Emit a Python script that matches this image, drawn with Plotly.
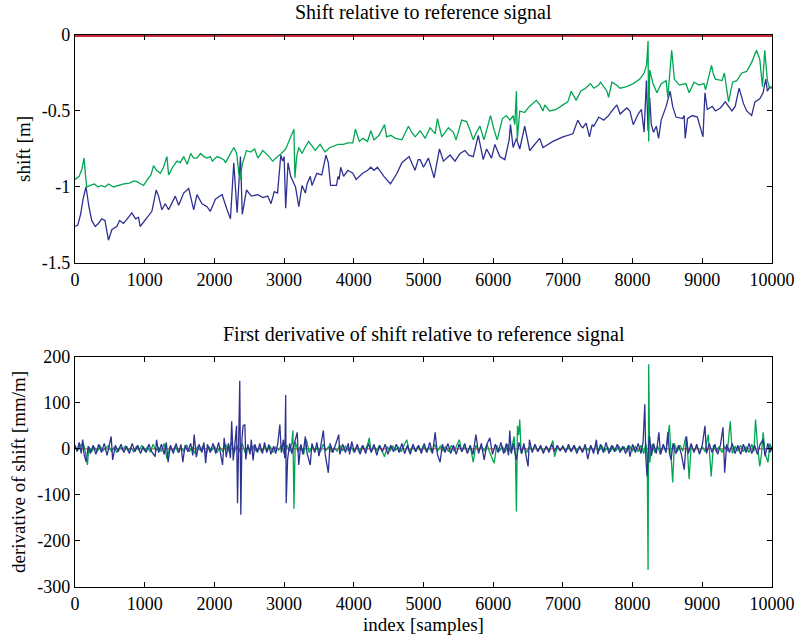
import plotly.graph_objects as go
from plotly.subplots import make_subplots

# ---- shift relative to reference signal [m] ----
green_x = [0, 60, 100, 130, 150, 168, 220, 280, 330, 380, 430, 480, 551, 620, 700, 780, 850, 887, 940, 983,
           1040, 1090, 1127, 1170, 1223, 1270, 1319, 1343, 1400, 1463, 1510, 1559, 1610, 1660, 1703, 1750, 1800,
           1850, 1900, 1942, 1970, 2038, 2090, 2134, 2160, 2220, 2278, 2320, 2350, 2370, 2400, 2440, 2460, 2520,
           2577, 2624, 2695, 2765, 2836, 2906, 2960, 3023, 3070, 3094, 3141, 3155, 3180, 3211, 3258, 3300, 3352,
           3400, 3446, 3516, 3587, 3657, 3720, 3775, 3850, 3915, 3986, 4023, 4080, 4130, 4197, 4244, 4290, 4362,
           4441, 4470, 4530, 4596, 4690, 4784, 4830, 4880, 4952, 5024, 5095, 5167, 5200, 5262, 5310, 5357, 5429,
           5467, 5548, 5619, 5670, 5714, 5760, 5810, 5867, 5920, 5962, 6010, 6057, 6133, 6190, 6240, 6286, 6310,
           6333, 6345, 6381, 6450, 6520, 6619, 6670, 6714, 6740, 6810, 6905, 7000, 7070, 7119, 7190, 7255, 7325,
           7396, 7443, 7514, 7540, 7632, 7656, 7703, 7774, 7821, 7915, 8009, 8104, 8165, 8200, 8222, 8231, 8245,
           8292, 8349, 8410, 8481, 8505, 8561, 8580, 8599, 8670, 8764, 8811, 8882, 8953, 9024, 9047, 9132, 9160,
           9189, 9283, 9316, 9377, 9434, 9495, 9566, 9637, 9708, 9778, 9825, 9863, 9896, 9934, 9967, 10000]
green_shift = [-0.95, -0.93, -0.88, -0.81, -0.92, -1.0, -0.99, -0.98, -1.0, -0.99, -1.0, -0.98, -1.0, -0.99,
               -0.98, -0.975, -0.96, -0.965, -0.98, -0.99, -0.95, -0.92, -0.86, -0.89, -0.91, -0.87, -0.80,
               -0.92, -0.87, -0.83, -0.84, -0.80, -0.85, -0.78, -0.81, -0.81, -0.78, -0.80, -0.81, -0.80, -0.83,
               -0.80, -0.81, -0.82, -0.84, -0.79, -0.74, -0.78, -0.91, -0.95, -0.85, -0.79, -0.76, -0.77, -0.75,
               -0.81, -0.76, -0.79, -0.83, -0.80, -0.78, -0.75, -0.70, -0.67, -0.62, -0.94, -0.80, -0.74, -0.78,
               -0.74, -0.70, -0.73, -0.76, -0.72, -0.77, -0.74, -0.73, -0.72, -0.72, -0.71, -0.71, -0.62, -0.70,
               -0.68, -0.70, -0.63, -0.69, -0.66, -0.59, -0.67, -0.66, -0.68, -0.69, -0.60, -0.64, -0.67, -0.63,
               -0.68, -0.61, -0.65, -0.55, -0.67, -0.64, -0.61, -0.64, -0.69, -0.56, -0.57, -0.63, -0.69, -0.64,
               -0.60, -0.69, -0.60, -0.53, -0.62, -0.69, -0.55, -0.53, -0.56, -0.53, -0.59, -0.37, -0.69, -0.50,
               -0.51, -0.47, -0.43, -0.46, -0.50, -0.46, -0.50, -0.49, -0.46, -0.44, -0.37, -0.43, -0.37, -0.35,
               -0.32, -0.35, -0.33, -0.31, -0.37, -0.41, -0.31, -0.33, -0.35, -0.34, -0.32, -0.29, -0.25, -0.20,
               -0.04, -0.70, -0.23, -0.32, -0.38, -0.32, -0.30, -0.41, -0.10, -0.22, -0.29, -0.33, -0.32, -0.38,
               -0.31, -0.33, -0.32, -0.36, -0.20, -0.26, -0.29, -0.30, -0.25, -0.44, -0.31, -0.30, -0.25, -0.24,
               -0.18, -0.10, -0.16, -0.34, -0.10, -0.30, -0.35, -0.34]

blue_x = [0, 40, 80, 120, 158, 200, 240, 290, 336, 384, 430, 480, 530, 600, 640, 695, 750, 815, 870, 911, 935,
          983, 1055, 1103, 1165, 1199, 1247, 1295, 1343, 1391, 1439, 1487, 1559, 1631, 1703, 1750, 1822, 1894,
          1942, 2014, 2110, 2182, 2230, 2278, 2326, 2374, 2400, 2460, 2530, 2624, 2695, 2765, 2812, 2859, 2906,
          2953, 2980, 3000, 3023, 3056, 3094, 3164, 3211, 3258, 3305, 3330, 3375, 3400, 3469, 3540, 3601, 3634,
          3667, 3751, 3775, 3790, 3812, 3854, 3915, 3986, 4033, 4127, 4200, 4244, 4290, 4338, 4432, 4526, 4620,
          4690, 4793, 4830, 4878, 4925, 4952, 5000, 5071, 5152, 5229, 5286, 5381, 5452, 5524, 5595, 5650, 5714,
          5786, 5857, 5905, 5976, 6024, 6095, 6167, 6229, 6248, 6286, 6333, 6381, 6452, 6524, 6595, 6667, 6714,
          6857, 7000, 7143, 7214, 7260, 7286, 7333, 7381, 7420, 7443, 7514, 7585, 7656, 7703, 7774, 7821, 7915,
          7962, 8009, 8080, 8127, 8165, 8198, 8222, 8245, 8269, 8300, 8340, 8373, 8410, 8481, 8538, 8575, 8623,
          8717, 8740, 8755, 8788, 8858, 8929, 8991, 9010, 9038, 9071, 9142, 9189, 9259, 9330, 9425, 9472, 9528,
          9590, 9637, 9708, 9755, 9825, 9872, 9910, 9934, 9967, 10000]
blue_shift = [-1.26, -1.25, -1.18, -1.07, -1.0, -1.13, -1.22, -1.26, -1.24, -1.21, -1.22, -1.35, -1.28, -1.26,
              -1.22, -1.24, -1.21, -1.17, -1.21, -1.20, -1.26, -1.23, -1.19, -1.16, -1.02, -1.06, -1.15, -1.11,
              -1.15, -1.11, -1.06, -1.12, -1.04, -1.01, -1.15, -1.05, -1.11, -1.13, -1.16, -1.08, -1.05, -1.15,
              -1.21, -0.84, -1.17, -0.80, -1.18, -1.02, -1.06, -1.05, -1.07, -1.06, -1.11, -1.03, -1.04, -0.79,
              -0.83, -0.80, -1.14, -0.84, -0.93, -1.0, -1.13, -0.99, -1.04, -0.98, -0.93, -0.99, -0.91, -0.92,
              -0.79, -0.84, -0.99, -0.99, -0.93, -0.95, -0.87, -0.93, -0.89, -0.91, -0.95, -0.91, -0.89, -0.87,
              -0.89, -0.87, -0.93, -0.98, -0.91, -0.84, -0.80, -0.84, -0.89, -0.82, -0.82, -0.87, -0.81, -0.94,
              -0.75, -0.83, -0.79, -0.83, -0.78, -0.76, -0.79, -0.80, -0.66, -0.82, -0.75, -0.81, -0.72, -0.80,
              -0.82, -0.69, -0.59, -0.74, -0.68, -0.75, -0.60, -0.76, -0.72, -0.68, -0.74, -0.70, -0.67, -0.65,
              -0.56, -0.60, -0.61, -0.58, -0.67, -0.59, -0.60, -0.54, -0.56, -0.53, -0.50, -0.46, -0.52, -0.48,
              -0.50, -0.59, -0.52, -0.49, -0.64, -0.30, -0.63, -0.41, -0.59, -0.64, -0.60, -0.68, -0.56, -0.47,
              -0.37, -0.47, -0.54, -0.55, -0.53, -0.68, -0.55, -0.53, -0.54, -0.65, -0.67, -0.38, -0.49, -0.47,
              -0.50, -0.48, -0.44, -0.50, -0.47, -0.35, -0.45, -0.50, -0.53, -0.44, -0.42, -0.38, -0.29, -0.37,
              -0.34, -0.35]

ref_x = [0, 10000]
ref_val = [0, 0]

# ---- first derivative of shift [mm/m] ----
green_dx = [0, 40, 80, 120, 150, 178, 200, 240, 280, 320, 360, 400, 440, 480, 520, 560, 600, 640, 680, 720, 760,
            800, 840, 880, 920, 960, 1000, 1040, 1080, 1120, 1160, 1200, 1240, 1280, 1320, 1360, 1400, 1440, 1480,
            1520, 1560, 1600, 1640, 1680, 1720, 1760, 1800, 1840, 1880, 1920, 1960, 2000, 2040, 2080, 2120, 2160,
            2200, 2240, 2280, 2320, 2360, 2400, 2440, 2480, 2520, 2560, 2600, 2640, 2680, 2720, 2760, 2800, 2840,
            2880, 2920, 2960, 3000, 3040, 3080, 3110, 3127, 3141, 3160, 3200, 3240, 3280, 3320, 3360, 3400, 3440,
            3480, 3520, 3560, 3600, 3640, 3680, 3720, 3760, 3800, 3840, 3880, 3920, 3960, 4000, 4040, 4080, 4120,
            4160, 4200, 4221, 4250, 4290, 4330, 4370, 4410, 4440, 4480, 4520, 4560, 4600, 4640, 4680, 4720, 4760,
            4800, 4840, 4880, 4920, 4960, 5000, 5040, 5080, 5120, 5160, 5200, 5240, 5280, 5320, 5360, 5400, 5440,
            5480, 5514, 5550, 5590, 5630, 5670, 5714, 5750, 5790, 5830, 5870, 5910, 5950, 6014, 6050, 6090, 6130,
            6170, 6210, 6250, 6280, 6300, 6320, 6333, 6348, 6365, 6381, 6400, 6440, 6480, 6520, 6560, 6600, 6640,
            6680, 6720, 6760, 6800, 6857, 6880, 6920, 6960, 7000, 7040, 7080, 7120, 7160, 7200, 7240, 7280, 7320,
            7360, 7400, 7440, 7480, 7520, 7560, 7600, 7640, 7680, 7720, 7760, 7800, 7840, 7880, 7920, 7960, 8000,
            8040, 8080, 8120, 8160, 8190, 8210, 8222, 8231, 8245, 8280, 8320, 8360, 8400, 8440, 8480, 8528, 8550,
            8575, 8600, 8640, 8680, 8720, 8764, 8790, 8811, 8840, 8880, 8920, 8960, 9000, 9040, 9085, 9105, 9127,
            9160, 9200, 9240, 9280, 9320, 9360, 9401, 9430, 9470, 9510, 9550, 9590, 9630, 9670, 9710, 9740, 9764,
            9790, 9825, 9850, 9873, 9900, 9943, 9970, 10000]
green_deriv = [5, -3, 8, 12, -8, -35, 4, -6, 3, -5, 6, -4, 2, 7, -5, 3, -8, 4, -2, 6, -4, 3, -6, 5, -3, 8, -5,
               4, -7, 10, -4, 3, -6, 12, -22, 5, -4, 6, -8, 3, -5, 9, -6, 4, -10, 6, -4, 8, -12, 5, -3, 6, -8, 4,
               -6, 10, -5, 15, -10, 8, -6, 12, -8, 5, -4, 6, -5, 3, -7, 5, -4, 6, -8, 4, -3, 7, -10, 8, -5, 12,
               40, -130, 15, -6, 8, -12, 20, -8, 6, -5, 4, -7, 10, -4, 5, -6, 3, -5, 8, -4, 6, -3, 5, -6, 4, -8,
               6, -4, 10, 24, -6, 5, -4, 8, -6, -17, 5, -4, 6, -3, 4, -6, 8, 20, -8, 5, -4, 6, -5, 8, -6, 4, -8,
               10, -5, 6, -4, 5, -6, 8, -5, 10, 20, -6, 5, -8, 6, -29, 8, -4, 6, -5, 10, -8, -31, 8, -5, 6, -8, 10,
               -6, 12, 27, -20, -136, 50, 30, 64, -10, 6, -8, 5, -4, 8, -5, 4, -6, 5, -4, 18, -17, 5, -4, 6, -5, 4,
               -6, 8, -4, 5, -6, 4, -3, 6, -5, 8, -4, 6, -5, 4, -6, 5, -4, 6, -3, 4, -5, 6, -4, 5, -6, 8, -10, 12,
               -20, -263, 184, -30, 10, -8, 6, -12, 8, -6, 52, -10, -73, 12, -6, 8, -5, 27, -10, -66, 8, -5, 6, -8,
               5, -6, 31, -10, -60, 8, -6, 5, -8, 6, -5, 60, -10, 6, -5, 8, -6, 5, -8, 10, -6, 64, 10, -38, -10, 36,
               -10, -29, 12, -5]

blue_dx = [0, 30, 60, 90, 110, 130, 160, 190, 220, 260, 300, 340, 380, 420, 460, 490, 519, 540, 580, 620, 660,
           700, 740, 780, 820, 860, 900, 940, 980, 1020, 1060, 1100, 1150, 1170, 1200, 1240, 1280, 1310, 1336, 1370,
           1410, 1450, 1490, 1520, 1547, 1580, 1620, 1660, 1690, 1710, 1740, 1780, 1820, 1850, 1874, 1900, 1940,
           1980, 2020, 2060, 2090, 2117, 2140, 2170, 2200, 2230, 2248, 2270, 2300, 2318, 2332, 2348, 2364, 2379,
           2395, 2411, 2437, 2450, 2480, 2510, 2530, 2555, 2580, 2620, 2650, 2690, 2720, 2750, 2780, 2810, 2850,
           2880, 2910, 2939, 2960, 2990, 3010, 3023, 3030, 3050, 3080, 3110, 3150, 3188, 3210, 3240, 3270, 3305,
           3330, 3375, 3400, 3440, 3470, 3500, 3530, 3563, 3590, 3634, 3660, 3700, 3740, 3784, 3800, 3840, 3880,
           3920, 3940, 3970, 4010, 4050, 4090, 4130, 4170, 4210, 4250, 4290, 4330, 4370, 4410, 4450, 4490, 4530,
           4570, 4610, 4650, 4690, 4730, 4770, 4810, 4850, 4890, 4930, 4970, 5010, 5050, 5090, 5130, 5167, 5200,
           5238, 5270, 5310, 5350, 5390, 5430, 5470, 5510, 5550, 5590, 5630, 5670, 5710, 5752, 5790, 5830, 5870,
           5910, 5952, 5990, 6030, 6070, 6110, 6150, 6190, 6220, 6238, 6260, 6290, 6333, 6370, 6410, 6440, 6470,
           6500, 6520, 6560, 6600, 6640, 6680, 6720, 6760, 6800, 6840, 6880, 6920, 6960, 7000, 7040, 7080, 7120,
           7160, 7200, 7240, 7280, 7320, 7357, 7400, 7440, 7481, 7500, 7540, 7580, 7620, 7660, 7700, 7740, 7780,
           7820, 7860, 7900, 7940, 7962, 8000, 8040, 8080, 8120, 8150, 8175, 8190, 8208, 8230, 8245, 8270, 8300,
           8340, 8377, 8400, 8440, 8480, 8505, 8530, 8552, 8580, 8620, 8660, 8700, 8741, 8774, 8800, 8840, 8880,
           8920, 8960, 9000, 9038, 9060, 9100, 9140, 9180, 9220, 9260, 9297, 9321, 9350, 9390, 9430, 9470, 9510,
           9550, 9590, 9630, 9670, 9710, 9750, 9790, 9830, 9873, 9900, 9940, 9970, 10000]
blue_deriv = [8, -6, 14, -10, 20, -12, -28, 6, -10, 8, -12, 10, -8, 12, -14, 6, 27, -24, 8, -6, 10, -8, 6, -10,
              12, -6, 8, -10, 5, -8, 10, -6, -17, 20, -8, 10, -12, 14, -29, 8, -10, 12, -8, 10, -29, 8, -6, 12,
              -14, 31, -18, 10, -8, 14, -31, 10, -8, 12, -10, 14, -12, -35, 24, -18, 12, -20, 60, -25, 20, 50,
              -118, 30, 148, -143, 20, 50, 53, -23, 10, -12, 20, -25, 10, -8, 12, -10, 14, -8, 10, -12, 6, -10,
              12, 53, -8, 20, -20, 117, -118, -23, 12, -10, 14, 36, -35, 10, -12, 27, -10, -35, 12, -8, 14, -16,
              10, 40, -12, -52, 12, -8, 10, 31, -12, 10, -8, 12, -12, 16, -8, 10, -12, 8, -10, 12, -8, 10, -14, 8,
              -6, 10, -12, 8, -6, 10, -8, 12, -10, 8, -12, 10, -6, 8, -10, 12, -8, 14, -10, 36, -12, -29, 10, -8,
              12, -10, 8, -12, 10, -6, 12, -10, 8, -12, 31, -10, 12, -24, 10, 24, -12, 10, -8, 14, -10, 12, -14,
              40, -10, 12, -24, 14, -10, 12, -14, -38, 20, -8, 10, -6, 8, -10, 6, -8, 10, -6, 8, -4, 6, -8, 10,
              -6, 8, -10, 6, -8, 10, -22, 8, -10, 20, -12, 10, -8, 14, -10, 8, -6, 10, -8, 6, -10, 8, -17, 10, -8,
              12, -10, 14, 97, -20, -60, 10, 27, -15, 12, -10, 36, -12, 10, -8, 36, -10, -24, 12, -10, 8, -12, -45,
              27, -10, 12, -8, 10, -12, 8, 50, -10, 12, -8, 10, -12, 8, 47, -52, 10, -8, 12, -10, 8, -12, 10, -8,
              12, -10, 8, -12, 10, 20, -16, 12, -8, 6]

# ---- axis ticks ----
x_ticks = [0, 1000, 2000, 3000, 4000, 5000, 6000, 7000, 8000, 9000, 10000]
x_tick_labels = ["0", "1000", "2000", "3000", "4000", "5000", "6000", "7000", "8000", "9000", "10000"]
shift_ticks = [0, -0.5, -1, -1.5]
shift_tick_labels = ["0", "-0.5", "-1", "-1.5"]
deriv_ticks = [200, 100, 0, -100, -200, -300]
deriv_tick_labels = ["200", "100", "0", "-100", "-200", "-300"]

GREEN = "rgb(0,166,81)"
BLUE = "rgb(46,49,146)"
RED = "rgb(200,45,55)"
FONT = "Liberation Serif, Times New Roman, serif"
TICK_SIZE = 18
LABEL_SIZE = 19
TITLE_SIZE = 20

fig = make_subplots(rows=2, cols=1, vertical_spacing=0.17)

fig.add_trace(go.Scatter(x=ref_x, y=ref_val, mode="lines", line=dict(color=RED, width=4)), row=1, col=1)
fig.add_trace(go.Scatter(x=blue_x, y=blue_shift, mode="lines", line=dict(color=BLUE, width=1.3)), row=1, col=1)
fig.add_trace(go.Scatter(x=green_x, y=green_shift, mode="lines", line=dict(color=GREEN, width=1.3)), row=1, col=1)

fig.add_trace(go.Scatter(x=ref_x, y=ref_val, mode="lines", line=dict(color=RED, width=1)), row=2, col=1)
fig.add_trace(go.Scatter(x=green_dx, y=green_deriv, mode="lines", line=dict(color=GREEN, width=1.3)), row=2, col=1)
fig.add_trace(go.Scatter(x=blue_dx, y=blue_deriv, mode="lines", line=dict(color=BLUE, width=1.3)), row=2, col=1)

axis_common = dict(showgrid=False, zeroline=False, showline=True, linecolor="black", linewidth=1.3,
                   mirror="ticks", ticks="inside", ticklen=5, tickcolor="black", automargin=False,
                   tickfont=dict(family=FONT, size=TICK_SIZE, color="black"))

for r in (1, 2):
    fig.update_xaxes(range=[0, 10000], tickvals=x_ticks, ticktext=x_tick_labels, row=r, col=1, **axis_common)

fig.update_yaxes(range=[-1.5, 0], tickvals=shift_ticks, ticktext=shift_tick_labels, layer="below traces",
                 title=dict(text="shift [m]", font=dict(family=FONT, size=LABEL_SIZE, color="black"), standoff=6),
                 row=1, col=1, **axis_common)
fig.update_yaxes(range=[-300, 200], tickvals=deriv_ticks, ticktext=deriv_tick_labels,
                 title=dict(text="derivative of shift [mm/m]", font=dict(family=FONT, size=LABEL_SIZE, color="black"),
                            standoff=6),
                 row=2, col=1, **axis_common)
fig.update_xaxes(title=dict(text="index [samples]", font=dict(family=FONT, size=LABEL_SIZE, color="black"),
                            standoff=2),
                 row=2, col=1)

fig.update_layout(
    width=802, height=644,
    margin=dict(l=75, r=30, t=35, b=57),
    paper_bgcolor="white", plot_bgcolor="white",
    showlegend=False,
    font=dict(family=FONT, size=TICK_SIZE, color="black"),
    annotations=[
        dict(text="Shift relative to reference signal", x=0.5, y=1.0, xref="paper", yref="paper",
             xanchor="center", yanchor="bottom", yshift=9, showarrow=False,
             font=dict(family=FONT, size=TITLE_SIZE, color="black")),
        dict(text="First derivative of shift relative to reference signal", x=0.5, y=0.417, xref="paper",
             yref="paper", xanchor="center", yanchor="bottom", yshift=9, showarrow=False,
             font=dict(family=FONT, size=TITLE_SIZE, color="black")),
    ],
)
fig.update_yaxes(domain=[0.587, 1.0], row=1, col=1)
fig.update_yaxes(domain=[0.0, 0.417], row=2, col=1)

fig.write_html("out.html")
